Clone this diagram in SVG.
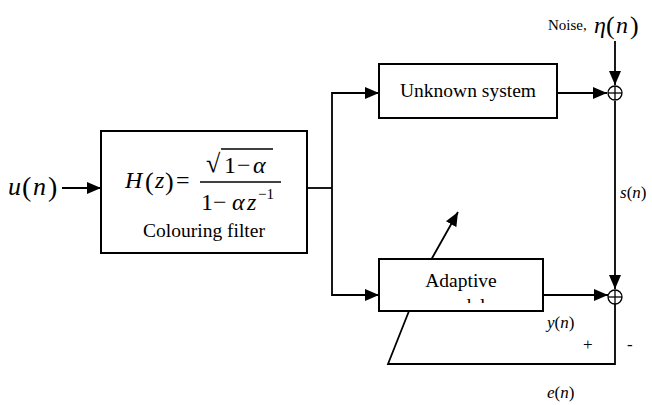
<svg xmlns="http://www.w3.org/2000/svg" width="652" height="405" viewBox="0 0 652 405" font-family="Liberation Serif, DejaVu Serif, serif">
<style>
.box{fill:#fff;stroke:#000;stroke-width:2}
.ln{fill:none;stroke:#000;stroke-width:1.8}
.arr{marker-end:url(#ah)}
text{font-family:'Liberation Serif','DejaVu Serif',serif;fill:#000}
.t{font-size:19.5px}
.it{font-style:italic}
.lab{font-size:17px;font-style:italic}
.sum{fill:#fff;stroke:#000;stroke-width:1.3}
</style>
<defs>
<marker id="ah" markerUnits="userSpaceOnUse" markerWidth="14" markerHeight="12" refX="14" refY="6" orient="auto">
<path d="M0,0 L14,6 L0,12 Z" fill="#000"/>
</marker>
<clipPath id="clipModel"><rect x="380" y="260" width="162" height="43"/></clipPath>
</defs>
<rect width="652" height="405" fill="#fff"/>
<g id="connectors">
<line class="ln arr" x1="62" y1="188" x2="101" y2="188"/>
<polyline class="ln" points="307,188 332,188"/>
<polyline class="ln arr" points="332,188 332,93 379,93"/>
<polyline class="ln arr" points="332,188 332,295 379,295"/>
<line class="ln arr" x1="557" y1="93" x2="607" y2="93"/>
<line class="ln arr" x1="615" y1="41" x2="615" y2="85"/>
<line class="ln arr" x1="615" y1="101" x2="615" y2="289"/>
<line class="ln arr" x1="543" y1="295" x2="608" y2="295"/>
<polyline class="ln" points="615,304 615,364 388,364 409,311"/>
<line class="ln arr" x1="431" y1="260" x2="458" y2="212"/>
</g>
<g id="colouring-filter">
<rect class="box" x="101" y="131" width="206" height="122"/>
<text class="it" x="125" y="188" font-size="24">H</text>
<text x="145" y="190" font-size="26">(</text>
<text class="it" x="155" y="188" font-size="24">z</text>
<text x="165" y="190" font-size="26">)</text>
<text x="176" y="188" font-size="24">=</text>
<line x1="200" y1="182" x2="281" y2="182" stroke="#000" stroke-width="1.3"/>
<text x="206" y="172" font-size="26">√</text>
<line x1="221" y1="149" x2="273" y2="149" stroke="#000" stroke-width="1.3"/>
<text x="224" y="173" font-size="24">1</text>
<text x="237" y="173" font-size="24">−</text>
<text class="it" x="253" y="173" font-size="24">α</text>
<text x="201" y="210" font-size="24">1</text>
<text x="213" y="210" font-size="24">−</text>
<text class="it" x="232" y="210" font-size="24">α</text>
<text class="it" x="247" y="210" font-size="24">z</text>
<text x="258" y="199" font-size="15">−1</text>
<text class="t" x="204" y="237" text-anchor="middle">Colouring filter</text>
</g>
<g id="unknown-system">
<rect class="box" x="379" y="64" width="178" height="54"/>
<text class="t" x="468" y="97" text-anchor="middle">Unknown system</text>
</g>
<g id="adaptive-model">
<rect class="box" x="379" y="259" width="164" height="52"/>
<text class="t" x="461" y="287" text-anchor="middle">Adaptive</text>
<text class="t" x="461" y="312" text-anchor="middle" clip-path="url(#clipModel)">model</text>
</g>
<g id="sum-top">
<circle class="sum" cx="615" cy="93" r="7"/>
<line x1="608" y1="93" x2="622" y2="93" stroke="#000" stroke-width="1.3"/>
<line x1="615" y1="86" x2="615" y2="100" stroke="#000" stroke-width="1.3"/>
</g>
<g id="sum-bottom">
<circle class="sum" cx="615" cy="297" r="7"/>
<line x1="608" y1="297" x2="622" y2="297" stroke="#000" stroke-width="1.3"/>
<line x1="615" y1="290" x2="615" y2="304" stroke="#000" stroke-width="1.3"/>
</g>
<g id="labels">
<text class="it" x="8" y="195" font-size="26">u</text>
<text x="22" y="196" font-size="28">(</text>
<text class="it" x="33" y="195" font-size="26">n</text>
<text x="48" y="196" font-size="28">)</text>
<text x="548" y="30" font-size="15">Noise,</text>
<text class="it" x="594" y="33" font-size="24">η</text>
<text x="606" y="34" font-size="26">(</text>
<text class="it" x="616" y="33" font-size="24">n</text>
<text x="630" y="34" font-size="26">)</text>
<text class="lab" x="620" y="198">s<tspan font-style="normal">(</tspan>n<tspan font-style="normal">)</tspan></text>
<text class="lab" x="547" y="328">y<tspan font-style="normal">(</tspan>n<tspan font-style="normal">)</tspan></text>
<text x="583" y="350" font-size="17">+</text>
<text x="627" y="350" font-size="17">-</text>
<text class="lab" x="547" y="398">e<tspan font-style="normal">(</tspan>n<tspan font-style="normal">)</tspan></text>
</g>
</svg>
